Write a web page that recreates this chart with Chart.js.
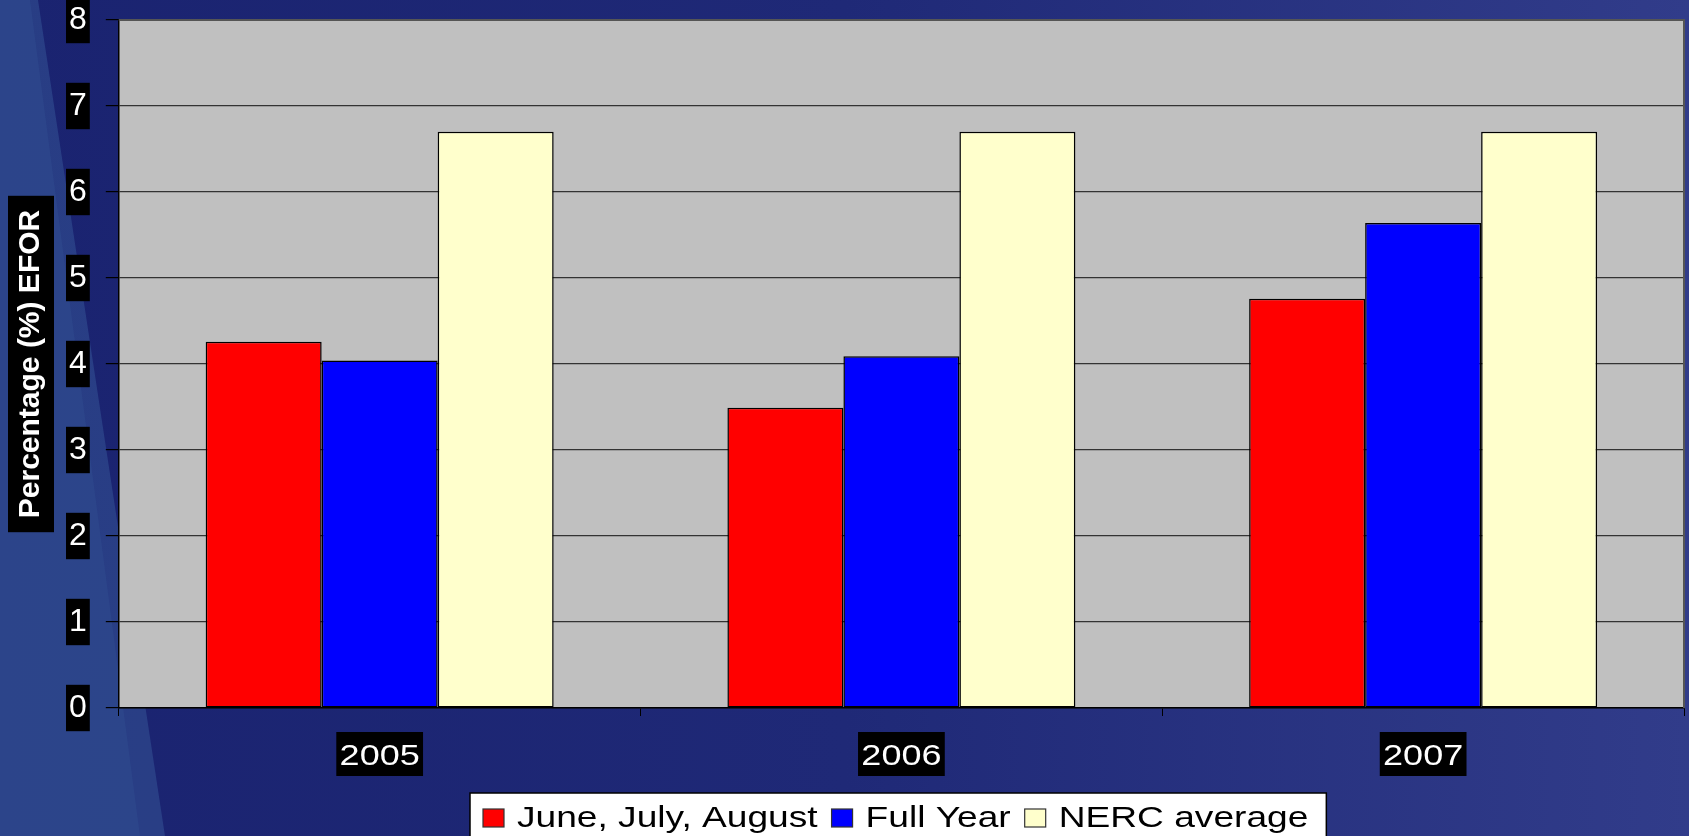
<!DOCTYPE html>
<html>
<head>
<meta charset="utf-8">
<title>EFOR</title>
<script src="https://cdn.jsdelivr.net/npm/chart.js@4/dist/chart.umd.min.js"></script>
<style>
    html, body { margin: 0; padding: 0; overflow: hidden; background: #1c2572; }
    canvas { display: block; }
</style>
</head>
<body>
<canvas id="eforChart" width="1689" height="836"></canvas>
<script>
// Data
const years = ['2005', '2006', '2007'];
const summerValues = [4.26, 3.49, 4.76];     // June, July, August
const fullYearValues = [4.04, 4.09, 5.64];   // Full Year
const nercValues = [6.70, 6.70, 6.70];       // NERC average
const seriesNames = ['June, July, August', 'Full Year', 'NERC average'];
const yAxisTitle = 'Percentage (%) EFOR';

const TITLE_PAD_TOP = 5;
const TITLE_FONT = 'bold 30px "Liberation Sans", Arial, sans-serif';
const LABEL_FONT = '30px "Liberation Sans", Arial, sans-serif';
const LEGEND_FONT = '29px "Liberation Sans", Arial, sans-serif';
// the slide was stretched sideways, so its text is wider than normal
const X_STRETCH = 1.2;
const LEGEND_STRETCH = 1.28;

// Draw text squeezed/stretched horizontally around a given anchor
function stretchedText(ctx, text, x, y, sx, align) {
    ctx.save();
    ctx.translate(x, y);
    ctx.scale(sx, 1);
    ctx.textAlign = align;
    ctx.textBaseline = 'alphabetic';
    ctx.fillText(text, 0, 0);
    ctx.restore();
}

// Slide background, grey plot area, axis title box, x labels and legend
const slidePlugin = {
    id: 'slide',
    beforeDraw(chart) {
        const { ctx, width, height, chartArea } = chart;
        ctx.save();

        const bg = ctx.createLinearGradient(0, 0, width, 0);
        bg.addColorStop(0, '#1a2370');
        bg.addColorStop(0.5, '#1f2977');
        bg.addColorStop(1, '#313c8a');
        ctx.fillStyle = bg;
        ctx.fillRect(0, 0, width, height);

        // lighter diagonal streak on the left
        ctx.fillStyle = 'rgba(52, 84, 150, 0.55)';
        ctx.beginPath();
        ctx.moveTo(0, 0); ctx.lineTo(38, 0); ctx.lineTo(165, height); ctx.lineTo(0, height);
        ctx.closePath(); ctx.fill();
        ctx.fillStyle = 'rgba(52, 84, 150, 0.35)';
        ctx.beginPath();
        ctx.moveTo(0, 0); ctx.lineTo(30, 0); ctx.lineTo(140, height); ctx.lineTo(0, height);
        ctx.closePath(); ctx.fill();

        // plot area
        ctx.fillStyle = '#c0c0c0';
        ctx.fillRect(chartArea.left, chartArea.top, chartArea.right - chartArea.left, chartArea.bottom - chartArea.top);

        // black box behind the y axis title
        ctx.font = TITLE_FONT;
        const tw = ctx.measureText(yAxisTitle).width;
        const cx = chart.scales.y.left + TITLE_PAD_TOP + 18;
        const cy = (chartArea.top + chartArea.bottom) / 2;
        ctx.fillStyle = '#000000';
        ctx.fillRect(cx - 23, cy - tw / 2 - 14, 46, tw + 28);

        ctx.restore();
    },
    afterDraw(chart) {
        const { ctx, chartArea, height } = chart;
        ctx.save();

        // grey frame on top and right of the plot area
        ctx.strokeStyle = '#555555';
        ctx.lineWidth = 2;
        ctx.beginPath();
        ctx.moveTo(chartArea.left, chartArea.top);
        ctx.lineTo(chartArea.right, chartArea.top);
        ctx.lineTo(chartArea.right, chartArea.bottom);
        ctx.stroke();

        // x labels: Chart.js draws the black boxes, the text goes on top stretched
        const xScale = chart.scales.x;
        ctx.font = LABEL_FONT;
        ctx.fillStyle = '#ffffff';
        xScale.getLabelItems(chartArea).forEach((item, i) => {
            const b = item.options.backdrop;
            const ty = item.options.translation[1];
            const mid = b ? ty + b.top + b.height / 2 : ty + 18;
            stretchedText(ctx, chart.data.labels[i], xScale.getPixelForTick(i), mid + 10.5, X_STRETCH, 'center');
        });

        // legend in a white frame, cut by the bottom of the slide
        const boxLeft = 470, boxTop = 793, markTop = 809, baseline = 827;
        ctx.font = LEGEND_FONT;
        let x = boxLeft + 13;
        const items = chart.data.datasets.map(ds => {
            const w = ctx.measureText(ds.label).width * LEGEND_STRETCH;
            const item = { ds, x, w };
            x += 21 + 13 + w + 14;
            return item;
        });
        const boxRight = x - 14 + 18;
        ctx.fillStyle = '#ffffff';
        ctx.fillRect(boxLeft, boxTop, boxRight - boxLeft, height - boxTop + 10);
        ctx.strokeStyle = '#000000';
        ctx.lineWidth = 1.5;
        ctx.strokeRect(boxLeft, boxTop, boxRight - boxLeft, height - boxTop + 10);

        items.forEach(it => {
            ctx.fillStyle = it.ds.backgroundColor;
            ctx.fillRect(it.x, markTop, 21, 18);
            ctx.strokeStyle = '#333333';
            ctx.lineWidth = 1.2;
            ctx.strokeRect(it.x, markTop, 21, 18);
            ctx.fillStyle = '#000000';
            stretchedText(ctx, it.ds.label, it.x + 34, baseline, LEGEND_STRETCH, 'left');
        });

        ctx.restore();
    }
};

const ctx = document.getElementById('eforChart').getContext('2d');

window.eforChartInstance = new Chart(ctx, {
    type: 'bar',
    data: {
        labels: years,
        datasets: [{
            label: seriesNames[0],
            data: summerValues,
            backgroundColor: '#ff0000',
            borderColor: '#000000',
            borderWidth: 1.5
        }, {
            label: seriesNames[1],
            data: fullYearValues,
            backgroundColor: '#0000ff',
            borderColor: '#000000',
            borderWidth: 1.5
        }, {
            label: seriesNames[2],
            data: nercValues,
            backgroundColor: '#ffffcc',
            borderColor: '#000000',
            borderWidth: 1.5
        }]
    },
    options: {
        responsive: false,
        animation: false,
        datasets: {
            bar: {
                categoryPercentage: 0.667,
                barPercentage: 1.0,
                borderSkipped: false
            }
        },
        layout: {
            padding: { left: 8, right: 5, top: 20, bottom: 44 }
        },
        scales: {
            x: {
                grid: {
                    display: true,
                    drawOnChartArea: false,
                    offset: true,
                    color: '#000000',
                    tickLength: 8
                },
                border: { color: '#000000', width: 1.5 },
                ticks: {
                    color: 'rgba(0,0,0,0)',
                    font: { family: '"Liberation Sans", Arial, sans-serif', size: 30 },
                    padding: 20,
                    showLabelBackdrop: true,
                    backdropColor: '#000000',
                    backdropPadding: { x: 10, y: 4 }
                }
            },
            y: {
                min: 0,
                max: 8,
                // the top label may hang over the edge of the slide, as on the original
                afterFit(scale) {
                    scale.paddingTop = 0;
                    scale.paddingBottom = 0;
                },
                ticks: {
                    stepSize: 1,
                    color: '#ffffff',
                    font: { family: '"Liberation Sans", Arial, sans-serif', size: 32 },
                    padding: 19,
                    showLabelBackdrop: true,
                    backdropColor: '#000000',
                    backdropPadding: { x: 3, y: 4 }
                },
                grid: {
                    color: '#333333',
                    lineWidth: 1.2,
                    tickLength: 13,
                    tickColor: '#000000'
                },
                border: { color: '#000000', width: 1.5 },
                title: {
                    display: true,
                    text: yAxisTitle,
                    color: '#ffffff',
                    font: { family: '"Liberation Sans", Arial, sans-serif', size: 30, weight: 'bold' },
                    padding: { top: TITLE_PAD_TOP, bottom: 1 }
                }
            }
        },
        plugins: {
            legend: { display: false },
            tooltip: { enabled: false }
        }
    },
    plugins: [slidePlugin]
});
</script>
</body>
</html>
